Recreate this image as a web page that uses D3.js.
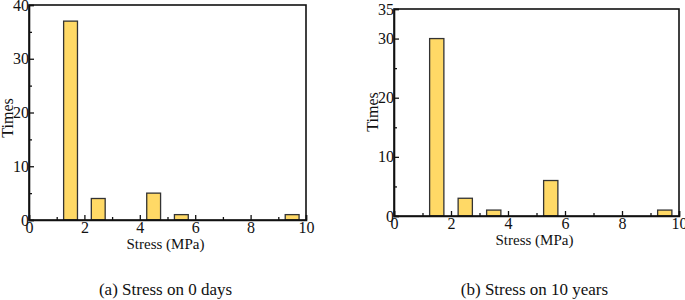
<!DOCTYPE html>
<html>
<head>
<meta charset="utf-8">
<script src="https://cdn.jsdelivr.net/npm/d3@7"></script>
<style>
  body { margin: 0; background: #fff; }
  svg text { font-family: "Liberation Serif", "DejaVu Serif", serif; fill: #111; }
</style>
</head>
<body>
<svg id="chart" width="685" height="300"></svg>
<script>
// Bin centres (MPa) and counts
const binsA = [1.5, 2.5, 4.5, 5.5, 9.5];
const countsA = [37, 4, 5, 1, 1];
const binsB = [1.5, 2.5, 3.5, 5.5, 9.5];
const countsB = [30, 3, 1, 6, 1];
const xTicks = [0, 2, 4, 6, 8, 10];
const yTicksA = [0, 10, 20, 30, 40];
const yTicksB = [0, 10, 20, 30, 35];
const captions = ["(a) Stress on 0 days", "(b) Stress on 10 years"];

const serif = 'Liberation Serif, DejaVu Serif, serif';
const svg = d3.select('#chart');

// Draw one histogram panel
function drawPanel(box, bins, counts, yMax, yTicks, yMinor, caption) {
    const g = svg.append('g');
    const x = d3.scaleLinear().domain([0, 10]).range([box.left, box.right]);
    const y = d3.scaleLinear().domain([0, yMax]).range([box.bottom, box.top]);
    const data = bins.map((b, i) => ({ bin: b, count: counts[i] }));

    g.selectAll('rect.bar')
        .data(data)
        .enter().append('rect')
        .attr('class', 'bar')
        .attr('x', d => x(d.bin - 0.25))
        .attr('width', d => x(d.bin + 0.25) - x(d.bin - 0.25))
        .attr('y', d => y(d.count))
        .attr('height', d => y(0) - y(d.count))
        .attr('fill', '#ffd966')
        .attr('stroke', '#333')
        .attr('stroke-width', 1.3);

    // frame
    g.append('rect')
        .attr('x', box.left).attr('y', box.top)
        .attr('width', box.right - box.left).attr('height', box.bottom - box.top)
        .attr('fill', 'none').attr('stroke', '#111').attr('stroke-width', 1.6);

    // axes with inward ticks
    g.append('g').attr('transform', `translate(0,${box.bottom})`)
        .call(d3.axisBottom(x).tickValues(xTicks).tickSize(-5).tickPadding(2).tickFormat(d3.format('d')));
    g.append('g').attr('transform', `translate(0,${box.bottom})`)
        .call(d3.axisBottom(x).tickValues([1, 3, 5, 7, 9]).tickSize(-3).tickFormat(''))
        .call(a => a.select('.domain').remove());

    g.append('g').attr('transform', `translate(${box.left},0)`)
        .call(d3.axisLeft(y).tickValues(yTicks).tickSize(-5).tickPadding(0).tickFormat(d3.format('d')));
    g.append('g').attr('transform', `translate(${box.left},0)`)
        .call(d3.axisLeft(y).tickValues(yMinor).tickSize(-3).tickFormat(''))
        .call(a => a.select('.domain').remove());

    g.selectAll('g').attr('font-family', serif);
    g.selectAll('.domain').attr('stroke', '#111').attr('stroke-width', 1.6);
    g.selectAll('.tick line').attr('stroke', '#111').attr('stroke-width', 1.3);
    g.selectAll('.tick text').attr('font-size', 16).attr('font-family', serif).attr('fill', '#111');

    g.append('text')
        .attr('x', (box.left + box.right) / 2 - 2)
        .attr('y', box.bottom + 29)
        .attr('text-anchor', 'middle')
        .attr('font-family', serif)
        .attr('font-size', 15)
        .text('Stress (MPa)');

    g.append('text')
        .attr('transform', `translate(${box.titleX},${box.titleY}) rotate(-90)`)
        .attr('text-anchor', 'middle')
        .attr('font-family', serif)
        .attr('font-size', 16)
        .text('Times');

    g.append('text')
        .attr('x', (box.left + box.right) / 2 - 2)
        .attr('y', 295)
        .attr('text-anchor', 'middle')
        .attr('font-family', serif)
        .attr('font-size', 17)
        .text(caption);
}

drawPanel({ left: 29, right: 306, top: 5, bottom: 220, titleX: 13, titleY: 118 },
    binsA, countsA, 40, yTicksA, [5, 15, 25, 35], captions[0]);
drawPanel({ left: 394, right: 679, top: 9, bottom: 216, titleX: 378, titleY: 112 },
    binsB, countsB, 35, yTicksB, [5, 15, 25], captions[1]);
</script>
</body>
</html>
